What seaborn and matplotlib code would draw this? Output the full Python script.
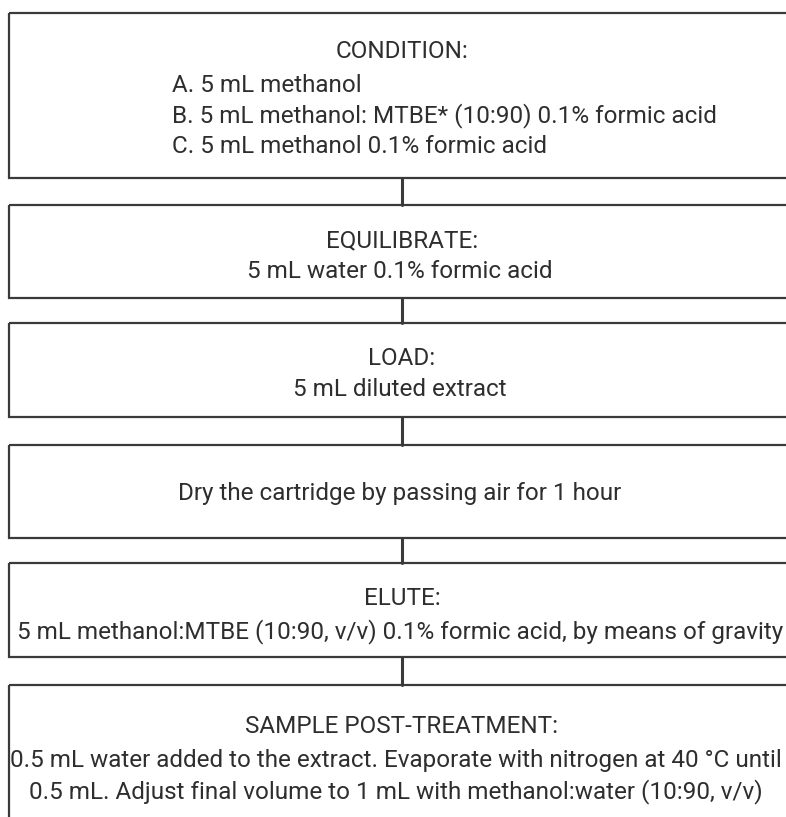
import matplotlib
matplotlib.use("Agg")
import matplotlib.pyplot as plt
from matplotlib.patches import Rectangle
from matplotlib import font_manager
import seaborn as sns
import pandas as pd

# ---- content ----
step_titles = ["CONDITION:", "EQUILIBRATE:", "LOAD:", "", "ELUTE:", "SAMPLE POST-TREATMENT:"]
condition_options = [
    "A. 5 mL methanol",
    "B. 5 mL methanol: MTBE* (10:90) 0.1% formic acid",
    "C. 5 mL methanol 0.1% formic acid",
]
step_bodies = [
    [],
    ["5 mL water 0.1% formic acid"],
    ["5 mL diluted extract"],
    ["Dry the cartridge by passing air for 1 hour"],
    ["5 mL methanol:MTBE (10:90, v/v) 0.1% formic acid, by means of gravity"],
    ["0.5 mL water added to the extract. Evaporate with nitrogen at 40 °C until",
     "0.5 mL. Adjust final volume to 1 mL with methanol:water (10:90, v/v)"],
]

# ---- layout (pixels) ----
W, H = 786, 817
box_top = [13, 205, 323, 445, 563, 685]
box_bot = [178, 298, 417, 538, 657, 840]
title_base = [58, 247, 365, None, 605, 733]
body_base = [[92, 122, 153], [278], [396], [500], [638], [767, 798]]
cx = 402
edge = "#3a3a3a"

sns.set_theme(style="white")
names = {f.name for f in font_manager.fontManager.ttflist}
main_font = "Liberation Sans Narrow" if "Liberation Sans Narrow" in names else "Roboto"
plt.rcParams["font.family"] = [main_font, "DejaVu Sans"]

fig = plt.figure(figsize=(W / 100, H / 100), dpi=100)
ax = fig.add_axes([0, 0, 1, 1])

# boxes
for t, b in zip(box_top, box_bot):
    ax.add_patch(Rectangle((8.5, t), 900, b - t, fill=False, edgecolor=edge, lw=1.6))

# connectors via seaborn
rows = []
for i in range(len(box_top) - 1):
    rows.append({"x": cx, "y": box_bot[i], "seg": i})
    rows.append({"x": cx, "y": box_top[i + 1], "seg": i})
df = pd.DataFrame(rows)
sns.lineplot(data=df, x="x", y="y", units="seg", estimator=None, sort=False,
             color=edge, lw=2.2, ax=ax, legend=False)
ax.set_xlim(0, W)
ax.set_ylim(H, 0)
ax.axis("off")

# font size fitted to the widest line
fig.canvas.draw()
r = fig.canvas.get_renderer()
probe = ax.text(0, 0, step_bodies[4][0], fontsize=15)
w = probe.get_window_extent(r).width
probe.remove()
fs = 15 * 766 / w
tc = "#2e2e2e"

for i, title in enumerate(step_titles):
    if title:
        ax.text(cx, title_base[i], title, ha="center", va="baseline", fontsize=fs, color=tc)
    if i == 0:
        for line, yb in zip(condition_options, body_base[0]):
            ax.text(172, yb, line, ha="left", va="baseline", fontsize=fs, color=tc)
    else:
        for line, yb in zip(step_bodies[i], body_base[i]):
            ax.text(cx - 2 if i != 5 else 396, yb, line, ha="center", va="baseline", fontsize=fs, color=tc)

fig.savefig("out.png", dpi=100, facecolor="white")
